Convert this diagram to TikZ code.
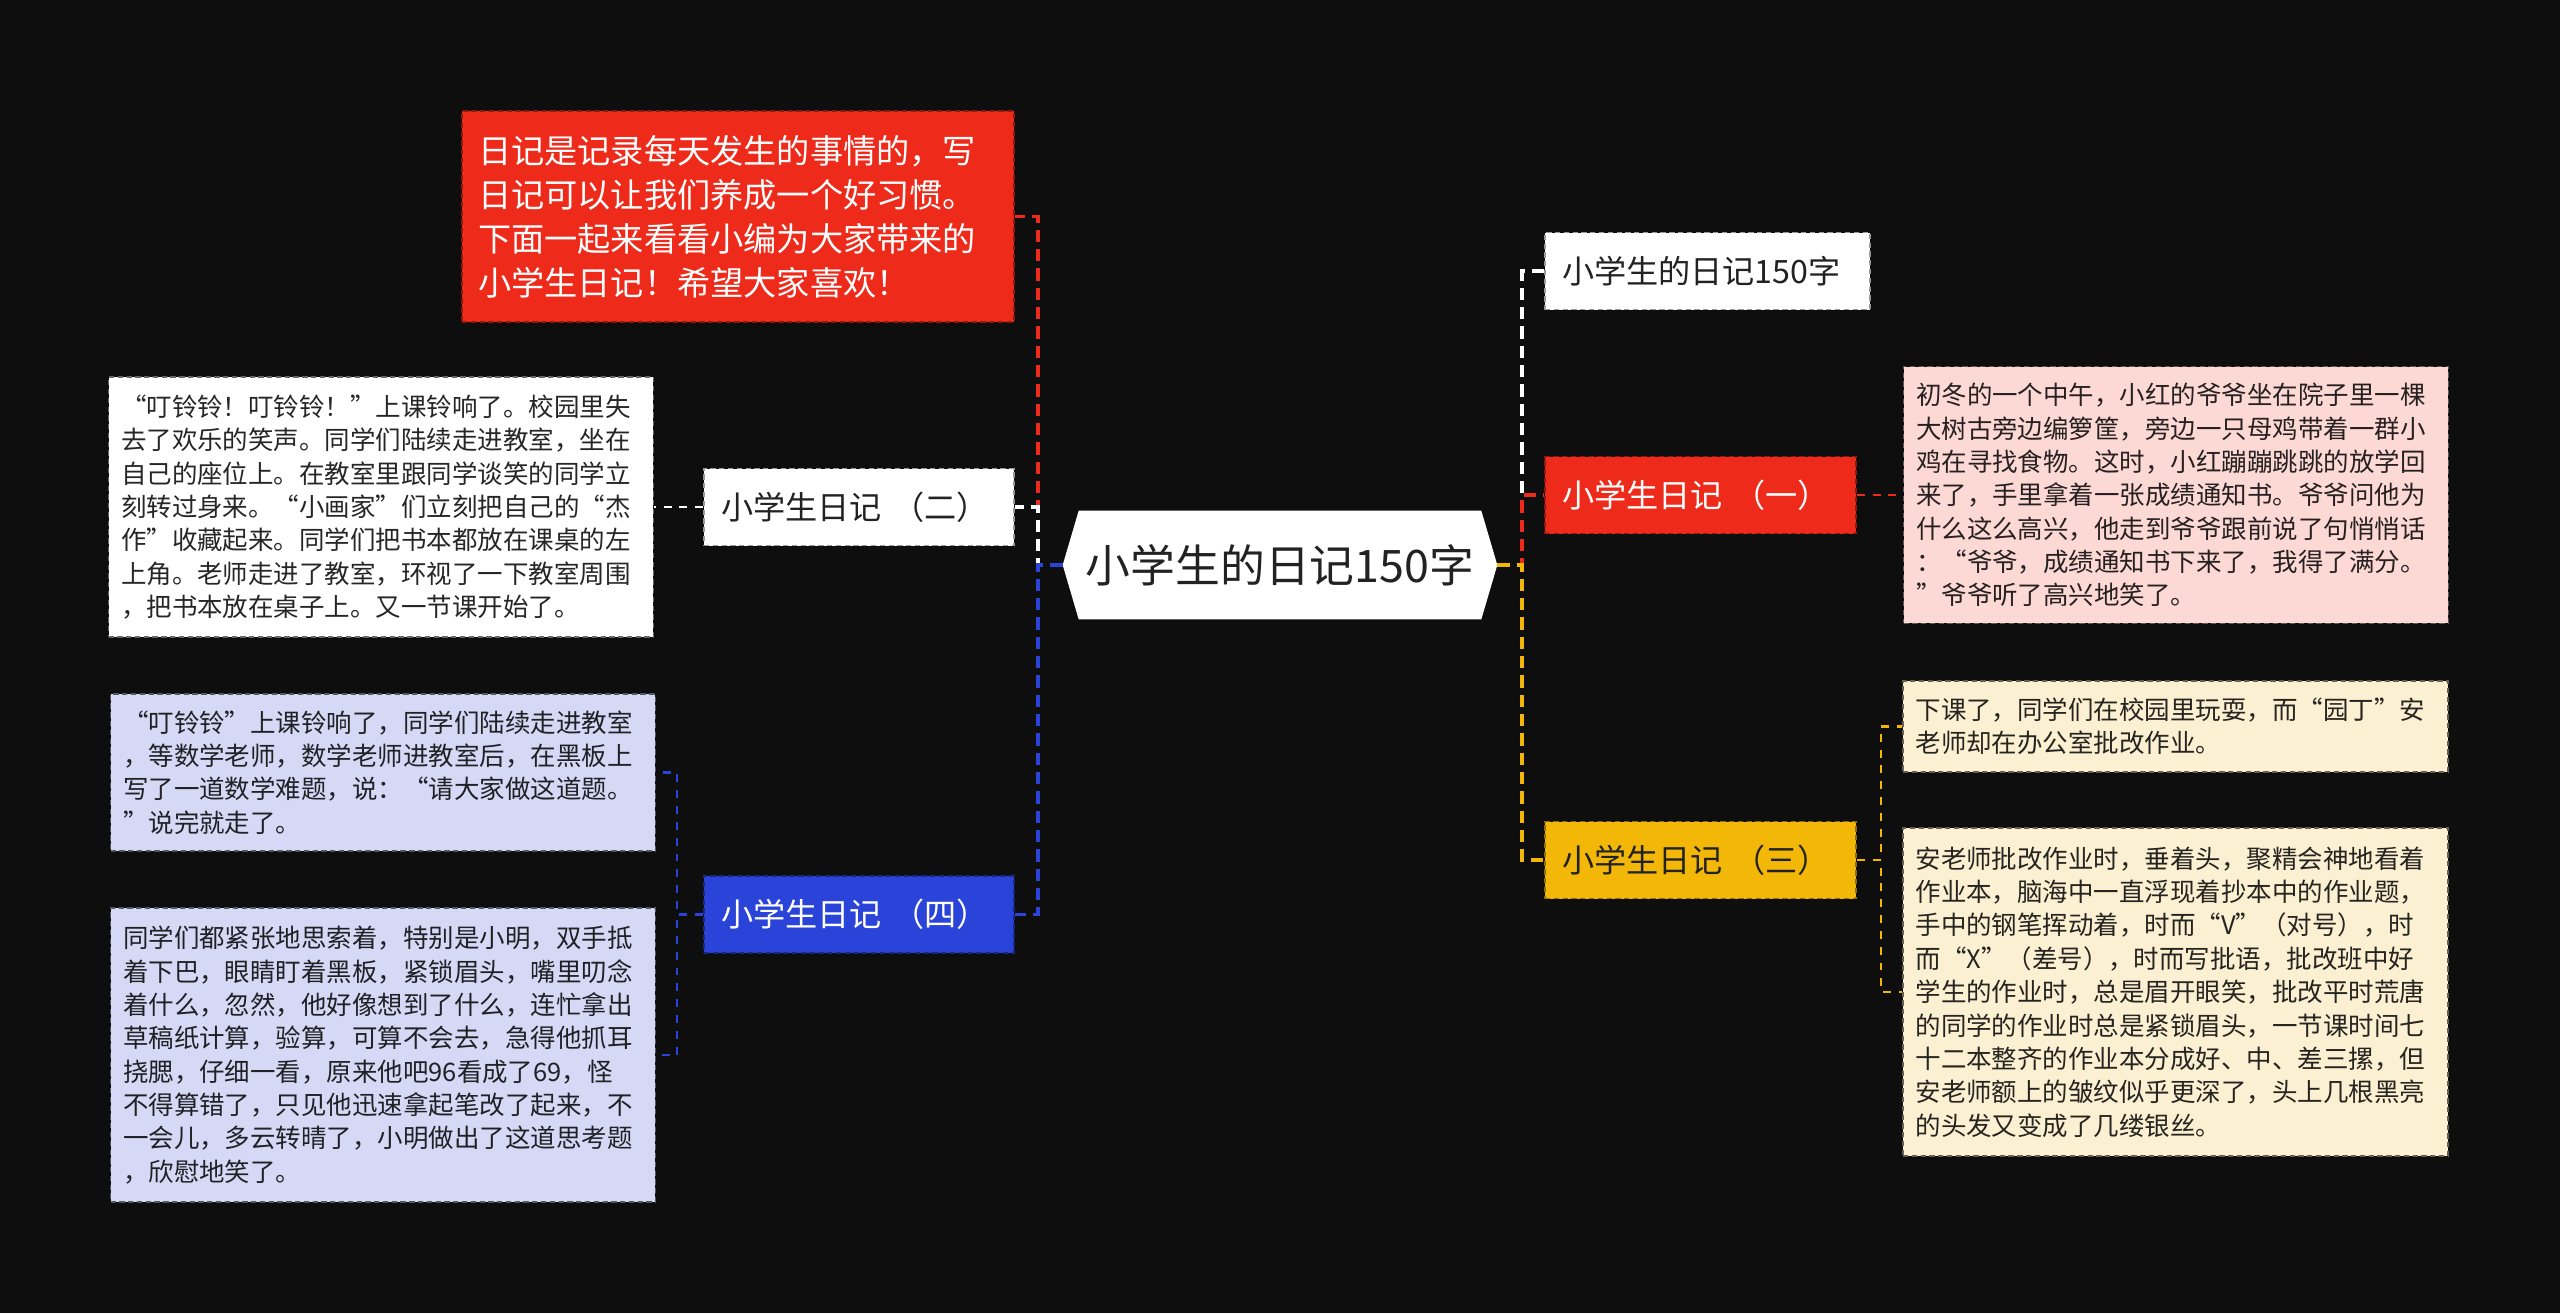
\documentclass[tikz,border=0pt]{standalone}
\usepackage{fontspec}
\setmainfont{Noto Sans CJK SC}
\usepackage{tikz}
\usetikzlibrary{positioning, backgrounds}
\definecolor{Fondo}{RGB}{14,14,14}
\definecolor{Rojo}{RGB}{238,42,26}
\definecolor{Amarillo}{RGB}{242,183,7}
\definecolor{Azul}{RGB}{42,68,217}
\definecolor{Rosa}{RGB}{253,217,214}
\definecolor{Crema}{RGB}{252,240,210}
\definecolor{Lila}{RGB}{213,217,246}
\definecolor{Tinta}{RGB}{34,34,34}

\begin{document}
\begin{tikzpicture}[
  x=0.02cm, y=-0.02cm,
  central/.style={
    rectangle, inner sep=0pt,
    minimum width=8.68cm, minimum height=2.16cm,
    text=Tinta, font=\fontsize{25.5}{30}\selectfont
  },
  rama/.style={
    rectangle, fill=#1, draw=#1!60!black,
    line width=1pt, dash pattern=on 3pt off 2pt,
    minimum height=1.54cm, inner xsep=0.34cm, inner ysep=0pt,
    align=left, font=\fontsize{18.3}{22}\selectfont
  },
  nota/.style={
    rectangle, fill=#1, draw=#1!40!black, text=#1!15!black,
    line width=0.8pt, dash pattern=on 3pt off 2pt,
    text width=10.4cm, inner xsep=0.25cm, inner ysep=0.1cm,
    align=left, font=\fontsize{14.5}{19}\selectfont
  },
  linea/.style={line width=2.2pt, dash pattern=on 7pt off 4pt},
  fina/.style={line width=1.3pt, dash pattern=on 4.5pt off 4.5pt}
]
  \useasboundingbox (0,0) rectangle (2560,1313);
  \begin{scope}[on background layer]
    \fill[Fondo] (0,0) rectangle (2560,1313);
  \end{scope}

  % --- Nodo central ---
  \node[central] (raiz) at (1280,565) {小学生的日记150字};
  \begin{scope}[on background layer]
    \fill[white] (raiz.west) -- ([xshift=0.32cm]raiz.north west)
      -- ([xshift=-0.32cm]raiz.north east) -- (raiz.east)
      -- ([xshift=-0.32cm]raiz.south east)
      -- ([xshift=0.32cm]raiz.south west) -- cycle;
  \end{scope}

  % --- Ramas derechas ---
  \node[rama=white, text=Tinta, text width=5.82cm] (titulo) at (1707.5,271) {小学生的日记150字};
  \node[rama=Rojo, text=white, text width=5.54cm] (diario1) at (1700.5,495) {小学生日记 （一）};
  \node[rama=Amarillo, text=Tinta, text width=5.54cm] (diario3) at (1700.5,860) {小学生日记 （三）};

  % --- Ramas izquierdas ---
  \node[rectangle, fill=Rojo, draw=Rojo!60!black, line width=1pt,
        dash pattern=on 3pt off 2pt, text=white,
        text width=10.4cm, inner xsep=0.32cm, minimum height=4.22cm,
        align=left, font=\fontsize{18.9}{25}\selectfont] (intro) at (738,216.5)
    {日记是记录每天发生的事情的，写\\日记可以让我们养成一个好习惯。\\下面一起来看看小编为大家带来的\\小学生日记！希望大家喜欢！};
  \node[rama=white, text=Tinta, text width=5.52cm] (diario2) at (859,507) {小学生日记 （二）};
  \node[rama=Azul, text=white, text width=5.52cm] (diario4) at (859,914.5) {小学生日记 （四）};

  % --- Notas ---
  \node[nota=Rosa, minimum height=5.14cm, right=0.92cm of diario1] (texto1)
    {初冬的一个中午，小红的爷爷坐在院子里一棵\\大树古旁边编箩筐，旁边一只母鸡带着一群小\\鸡在寻找食物。这时，小红蹦蹦跳跳的放学回\\来了，手里拿着一张成绩通知书。爷爷问他为\\什么这么高兴，他走到爷爷跟前说了句悄悄话\\：“爷爷，成绩通知书下来了，我得了满分。\\”爷爷听了高兴地笑了。};
  \node[nota=Crema, minimum height=1.82cm] (texto3a) at (2175.5,726.5)
    {下课了，同学们在校园里玩耍，而“园丁”安\\老师却在办公室批改作业。};
  \node[nota=Crema, minimum height=6.56cm] (texto3b) at (2175.5,992)
    {安老师批改作业时，垂着头，聚精会神地看着\\作业本，脑海中一直浮现着抄本中的作业题，\\手中的钢笔挥动着，时而“V”（对号），时\\而“X”（差号），时而写批语，批改班中好\\学生的作业时，总是眉开眼笑，批改平时荒唐\\的同学的作业时总是紧锁眉头，一节课时间七\\十二本整齐的作业本分成好、中、差三摞，但\\安老师额上的皱纹似乎更深了，头上几根黑亮\\的头发又变成了几缕银丝。};
  \node[nota=white, minimum height=5.2cm, left=0.98cm of diario2] (texto2)
    {“叮铃铃！叮铃铃！”上课铃响了。校园里失\\去了欢乐的笑声。同学们陆续走进教室，坐在\\自己的座位上。在教室里跟同学谈笑的同学立\\刻转过身来。“小画家”们立刻把自己的“杰\\作”收藏起来。同学们把书本都放在课桌的左\\上角。老师走进了教室，环视了一下教室周围\\，把书本放在桌子上。又一节课开始了。};
  \node[nota=Lila, minimum height=3.14cm] (texto4a) at (383,772.5)
    {“叮铃铃”上课铃响了，同学们陆续走进教室\\，等数学老师，数学老师进教室后，在黑板上\\写了一道数学难题，说：“请大家做这道题。\\”说完就走了。};
  \node[nota=Lila, minimum height=5.88cm] (texto4b) at (383,1055)
    {同学们都紧张地思索着，特别是小明，双手抵\\着下巴，眼睛盯着黑板，紧锁眉头，嘴里叨念\\着什么，忽然，他好像想到了什么，连忙拿出\\草稿纸计算，验算，可算不会去，急得他抓耳\\挠腮，仔细一看，原来他吧96看成了69，怪\\不得算错了，只见他迅速拿起笔改了起来，不\\一会儿，多云转晴了，小明做出了这道思考题\\，欣慰地笑了。};

  % --- Conectores del nodo central ---
  \draw[linea, white]    (raiz.east) -- ++(25,0) |- (titulo.west);
  \draw[linea, Rojo]     (raiz.east) -- ++(25,0) |- (diario1.west);
  \draw[linea, Amarillo] (raiz.east) -- ++(25,0) |- (diario3.west);
  \draw[linea, Rojo]     (raiz.west) -- ++(-25,0) |- (intro.east);
  \draw[linea, white]    (raiz.west) -- ++(-25,0) |- (diario2.east);
  \draw[linea, Azul]     (raiz.west) -- ++(-25,0) |- (diario4.east);

  % --- Conectores hacia las notas ---
  \draw[fina, Rojo]     (diario1.east) -- (texto1.west);
  \draw[fina, Amarillo] (diario3.east) -- ++(24,0) |- (texto3a.west);
  \draw[fina, Amarillo] (diario3.east) -- ++(24,0) |- (texto3b.west);
  \draw[fina, white]    (diario2.west) -- (texto2.east);
  \draw[fina, Azul]     (diario4.west) -- ++(-26,0) |- (texto4a.east);
  \draw[fina, Azul]     (diario4.west) -- ++(-26,0) |- (texto4b.east);
\end{tikzpicture}
\end{document}
